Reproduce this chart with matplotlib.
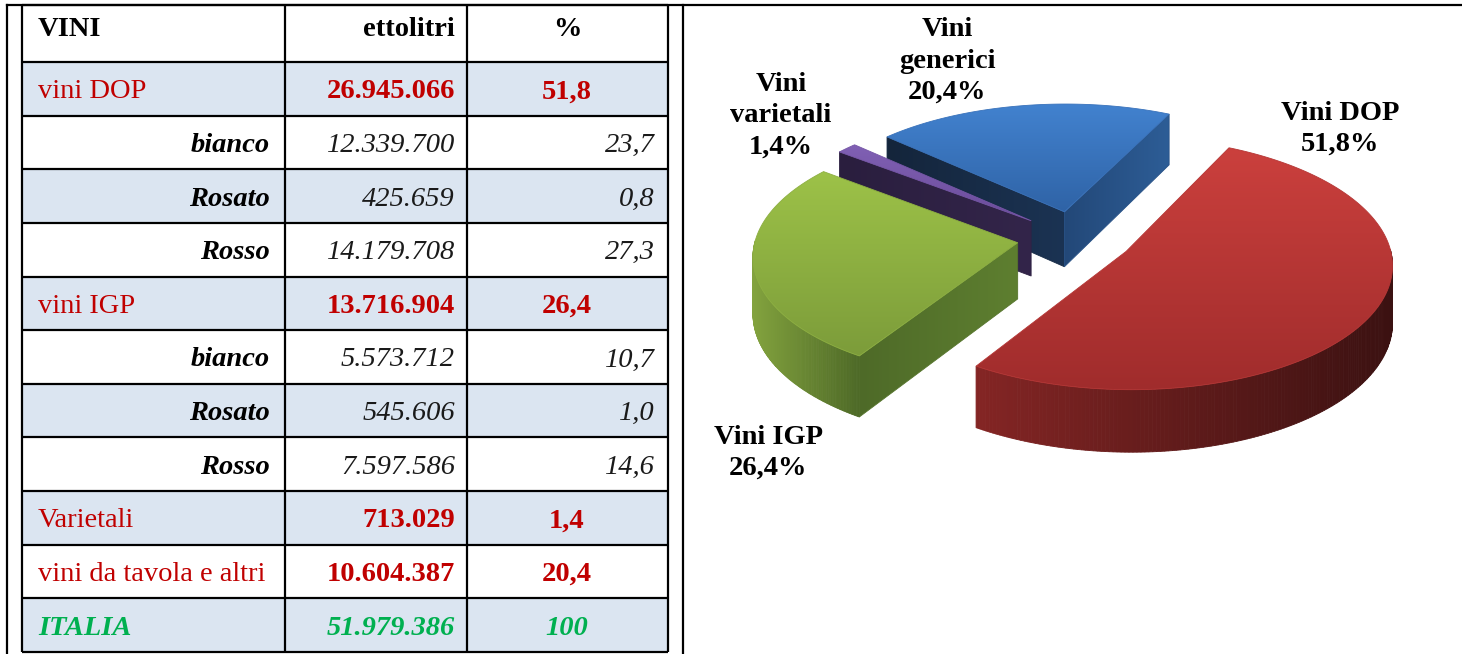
import numpy as np
import matplotlib.pyplot as plt
from matplotlib.patches import Polygon, Rectangle
from matplotlib.colors import to_rgb

# table data
row_labels = ['vini DOP', 'bianco', 'Rosato', 'Rosso', 'vini IGP', 'bianco', 'Rosato',
              'Rosso', 'Varietali', 'vini da tavola e altri', 'ITALIA']
row_hl = [26945066, 12339700, 425659, 14179708, 13716904, 5573712, 545606,
          7597586, 713029, 10604387, 51979386]
row_pct = [51.8, 23.7, 0.8, 27.3, 26.4, 10.7, 1.0, 14.6, 1.4, 20.4, 100]
row_kind = ['main', 'sub', 'sub', 'sub', 'main', 'sub', 'sub', 'sub', 'main', 'main', 'total']
headers = ['VINI', 'ettolitri', '%']

# pie data (clockwise from the first slice)
pie_labels = ['Vini DOP', 'Vini IGP', 'Vini\nvarietali', 'Vini\ngenerici']
pie_values = [51.8, 26.4, 1.4, 20.4]

# pie styles
top_cols = [('#CB403D', '#A02C2C'), ('#9DC248', '#7C9C3A'), ('#8060B4', '#6B4C9A'), ('#4282CF', '#2F63A6')]
rim_cols = [('#842524', '#3B1111'), ('#83A33E', '#4E6A27'), ('#2E2142', '#261A36'), ('#16283F', '#1B3252')]
cut_start_cols = [('#6A1C1C', '#4A1414'), ('#4E6A28', '#5E7F30'), ('#2A1E3E', '#33254A'), ('#14253B', '#1B3353')]
cut_end_cols = [('#6A1C1C', '#4A1414'), ('#4B6626', '#40581F'), ('#3A2A55', '#30224A'), ('#234878', '#2D5D96')]
label_pos = [(1340, 129), (768, 453), (781, 116), (947, 61)]

RED = '#C00000'
GREEN = '#00B050'
BLUE_ROW = '#DBE5F1'
FONT = 'Liberation Serif'
FS = 20.5

W, H = 1462, 654
fig = plt.figure(figsize=(W / 100, H / 100), dpi=100)
ax = fig.add_axes([0, 0, 1, 1])

# ---------------- table ----------------
TX = [22, 285, 467, 668]
TOP, HEAD_B, BOT = 5, 62, 652
row_h = (BOT - HEAD_B) / len(row_labels)
DY = 3  # nudge text down a bit

for i in range(len(row_labels)):
    y0 = HEAD_B + i * row_h
    if i % 2 == 0:
        ax.add_patch(Rectangle((TX[0], y0), TX[-1] - TX[0], row_h, facecolor=BLUE_ROW,
                               edgecolor='none', zorder=1))

lw = 1.6
for y in [TOP, HEAD_B] + [HEAD_B + i * row_h for i in range(1, len(row_labels) + 1)]:
    ax.plot([TX[0], TX[-1]], [y, y], color='black', lw=lw, zorder=3, solid_capstyle='butt')
for x in TX:
    ax.plot([x, x], [TOP, BOT], color='black', lw=lw, zorder=3, solid_capstyle='butt')
# outer frame
ax.plot([7, 7], [TOP, H], color='black', lw=lw, zorder=3)
ax.plot([683, 683], [TOP, H], color='black', lw=lw, zorder=3)
ax.plot([7, W], [TOP, TOP], color='black', lw=lw, zorder=3)

txt = dict(family=FONT, fontsize=FS, zorder=4)
ax.text(38, 27 + DY, headers[0], ha='left', va='center', weight='bold', **txt)
ax.text(455, 27 + DY, headers[1], ha='right', va='center', weight='bold', **txt)
ax.text(567, 27 + DY, headers[2], ha='center', va='center', weight='bold', **txt)


def fmt_hl(v):
    return f'{v:,}'.replace(',', '.')


def fmt_pct(v, kind):
    if kind == 'total':
        return f'{v:.0f}'
    return f'{v:.1f}'.replace('.', ',')


for i, (lab, hl, pct, kind) in enumerate(zip(row_labels, row_hl, row_pct, row_kind)):
    yc = HEAD_B + (i + 0.5) * row_h + DY
    if kind == 'main':
        ax.text(38, yc, lab, ha='left', va='center', color=RED, **txt)
        ax.text(455, yc, fmt_hl(hl), ha='right', va='center', color=RED, weight='bold', **txt)
        ax.text(567, yc, fmt_pct(pct, kind), ha='center', va='center', color=RED, weight='bold', **txt)
    elif kind == 'sub':
        ax.text(270, yc, lab, ha='right', va='center', color='black', weight='bold', style='italic', **txt)
        ax.text(455, yc, fmt_hl(hl), ha='right', va='center', color='#1a1a1a', style='italic', **txt)
        ax.text(655, yc, fmt_pct(pct, kind), ha='right', va='center', color='#1a1a1a', style='italic', **txt)
    else:
        ax.text(38, yc, lab, ha='left', va='center', color=GREEN, weight='bold', style='italic', **txt)
        ax.text(455, yc, fmt_hl(hl), ha='right', va='center', color=GREEN, weight='bold', style='italic', **txt)
        ax.text(567, yc, fmt_pct(pct, kind), ha='center', va='center', color=GREEN, weight='bold',
                style='italic', **txt)

# ---------------- 3D exploded pie ----------------
CX, CY = 1075, 238
R, K, P, DEPTH, EXPL = 262, 0.468, 0.094, 56, 58
START = np.deg2rad(64)

zc = [10]


def nextz():
    zc[0] += 1
    return zc[0]


def proj(u, v, z):
    w = 1 + P * v / R
    return CX + u / w, CY - (K * v + z) / w


def grad_fill(verts, c_from, c_to, vertical=True):
    verts = np.asarray(verts)
    x0, y0 = verts.min(0)
    x1, y1 = verts.max(0)
    z = nextz()
    patch = Polygon(verts, closed=True, facecolor='none', edgecolor='none', zorder=z)
    ax.add_patch(patch)
    t = np.linspace(0, 1, 256)
    c0, c1 = np.array(to_rgb(c_from)), np.array(to_rgb(c_to))
    cols = c0 + (c1 - c0) * t[:, None]
    img = cols[:, None, :] if vertical else cols[None, :, :]
    im = ax.imshow(img, extent=(x0, x1, y1, y0), origin='upper', aspect='auto',
                   zorder=z, interpolation='bilinear')
    im.set_clip_path(patch)
    # soft edge
    ax.add_patch(Polygon(verts, closed=True, facecolor='none',
                         edgecolor=tuple((c0 + c1) / 2), lw=0.6, zorder=z))


fracs = np.array(pie_values) / sum(pie_values)
ends = START - 2 * np.pi * np.cumsum(fracs)
starts = ends + 2 * np.pi * fracs

slices = []
for i in range(len(pie_values)):
    a2, a1 = starts[i], ends[i]
    m = (a1 + a2) / 2
    ox, oy = EXPL * np.cos(m), EXPL * np.sin(m)
    slices.append((oy, i, a1, a2, ox))

for oy, i, a1, a2, ox in sorted(slices, reverse=True):
    def pt(t, z, r=R):
        return proj(ox + r * np.cos(t), oy + r * np.sin(t), z)

    apex_t = proj(ox, oy, 0)
    apex_b = proj(ox, oy, -DEPTH)

    # cut face at start angle (counter-clockwise side)
    if np.cos(a2) < 0:
        grad_fill([apex_t, pt(a2, 0), pt(a2, -DEPTH), apex_b], *cut_start_cols[i], vertical=False)
    # cut face at end angle (clockwise side)
    if np.cos(a1) > 0:
        grad_fill([apex_t, pt(a1, 0), pt(a1, -DEPTH), apex_b], *cut_end_cols[i], vertical=False)

    # outer rim, front part only
    ts = np.linspace(a1, a2, 240)
    ts = ts[np.sin(ts) < 0.02]
    if len(ts) > 1:
        xs = np.array([pt(t, 0)[0] for t in ts])
        xmin, xmax = xs.min(), xs.max()
        c0, c1 = np.array(to_rgb(rim_cols[i][0])), np.array(to_rgb(rim_cols[i][1]))
        z = nextz()
        for t0, t1 in zip(ts[:-1], ts[1:]):
            quad = [pt(t0, 0), pt(t1, 0), pt(t1, -DEPTH), pt(t0, -DEPTH)]
            f = ((pt((t0 + t1) / 2, 0)[0]) - xmin) / max(xmax - xmin, 1)
            col = tuple(c0 + (c1 - c0) * f)
            ax.add_patch(Polygon(quad, closed=True, facecolor=col, edgecolor=col, lw=0.6, zorder=z))

    # top face
    arc = [pt(t, 0) for t in np.linspace(a1, a2, 200)]
    grad_fill([apex_t] + arc, *top_cols[i], vertical=True)

for lab, val, (lx, ly) in zip(pie_labels, pie_values, label_pos):
    s = f'{lab}\n{val:.1f}%'.replace('.', ',')
    ax.text(lx, ly, s, ha='center', va='center', family=FONT, fontsize=FS, weight='bold',
            linespacing=1.32, zorder=50)

ax.set_xlim(0, W)
ax.set_ylim(H, 0)
ax.axis('off')
fig.savefig('out.png', dpi=100, facecolor='white')
